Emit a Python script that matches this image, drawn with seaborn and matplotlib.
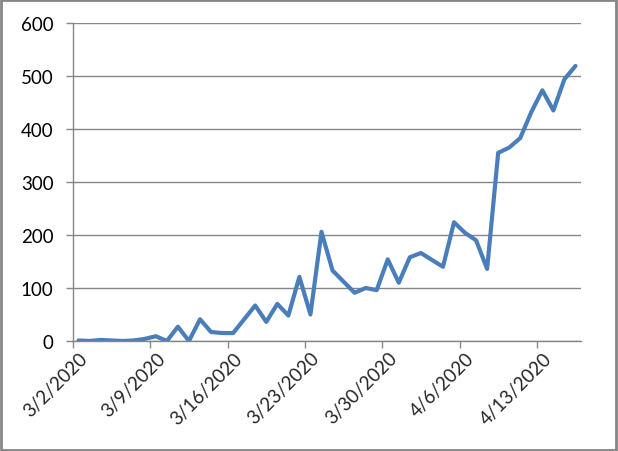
import numpy             as np
import pandas            as pd
import matplotlib
matplotlib.use('Agg')
import matplotlib.pyplot as plt
import matplotlib.transforms as mtrans
import seaborn           as sns
from matplotlib.patches import Rectangle

# daily counts, 3/2/2020 .. 4/16/2020
start_date = '2020-03-02'
counts = [1, 0, 2, 1, 0, 1, 4, 9, 0, 27,
          0, 41, 17, 15, 15, 41, 67, 36, 70, 48,
          121, 50, 206, 133, 112, 91, 100, 96, 154, 110,
          158, 166, 153, 140, 224, 204, 190, 136, 355, 365,
          383, 432, 473, 435, 494, 519]
y_ticks = [0, 100, 200, 300, 400, 500, 600]

dates = pd.date_range(start_date, periods=len(counts), freq='D')
df = pd.DataFrame({'date': dates + pd.Timedelta(hours=12), 'count': counts})

sns.set_style('white')
plt.rcParams['font.family'] = ['Lato', 'DejaVu Sans']

fig = plt.figure(figsize=(6.18, 4.52), dpi=100)
ax = fig.add_axes([73/618, 1 - 342/452, 508/618, 318/452])

sns.lineplot(data=df, x='date', y='count', ax=ax, color='#4A7EBB', linewidth=3)

grid_col = '#868686'
ax.set_ylim(0, 600)
ax.set_yticks(y_ticks)
ax.set_xlim(dates[0], dates[-1] + pd.Timedelta(days=1))
tick_dates = dates[::7]
ax.set_xticks(tick_dates)
ax.set_xticklabels([])

# rotated date labels, placed like the Excel ones
shift = mtrans.ScaledTranslation(6/100, -8/100, fig.dpi_scale_trans)
for d in tick_dates:
    ax.text(d, 0, f'{d.month}/{d.day}/{d.year}', transform=ax.get_xaxis_transform() + shift,
            rotation=45, ha='right', va='top', rotation_mode='anchor', fontsize=13.5)

ax.yaxis.grid(True, color=grid_col, linewidth=1)
ax.set_axisbelow(True)
ax.set_xlabel('')
ax.set_ylabel('')
for s in ['top', 'right']:
    ax.spines[s].set_visible(False)
for s in ['left', 'bottom']:
    ax.spines[s].set_color(grid_col)
    ax.spines[s].set_linewidth(1)
ax.tick_params(axis='both', colors=grid_col, labelcolor='black', labelsize=13.5,
               direction='out', length=5, width=1, left=True, bottom=True)
ax.tick_params(axis='y', pad=9)

# chart-area border
fig.patches.append(Rectangle((0.002, 0.003), 0.995, 0.994, transform=fig.transFigure,
                             fill=False, edgecolor=grid_col, linewidth=2))

fig.savefig('out.png', dpi=100)
